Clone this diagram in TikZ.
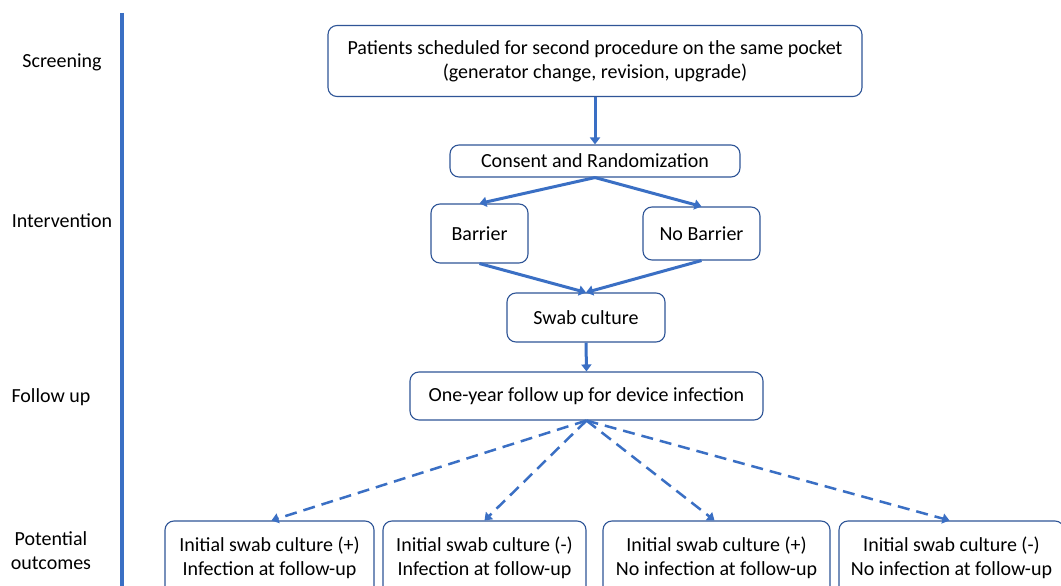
\documentclass[tikz,border=0pt]{standalone}
\usepackage{fontspec}
\setmainfont{Carlito}
\usetikzlibrary{arrows.meta}
\definecolor{lineblue}{HTML}{3A6FC4}
\definecolor{boxblue}{HTML}{2F5597}
\tikzset{
  box/.style={draw=boxblue, line width=1.1pt, rounded corners=9pt, align=center, font=\fontsize{20}{24}\selectfont, inner sep=0pt},
  lab/.style={font=\fontsize{20}{24}\selectfont, align=center},
  solidarrow/.style={draw=lineblue, line width=3pt, -{Triangle[width=10pt,length=7pt]}},
  dasharrow/.style={draw=lineblue, line width=2.5pt, dash pattern=on 12pt off 7pt, -{Triangle[width=10pt,length=7pt]}}
}
\begin{document}
\begin{tikzpicture}[x=1pt,y=-1pt]
\useasboundingbox (0,0) rectangle (1061,586);
\fill[white] (0,0) rectangle (1061,586);
% vertical bar
\draw[lineblue, line width=4.5pt] (122,13) -- (122,600);
% stage labels
\node[lab] (scr) at (62,62) {Screening};
\node[lab] (int) at (62,221) {Intervention};
\node[lab] (fol) at (51,397) {Follow up};
\node[lab] (pot) at (51,551) {Potential\\outcomes};
% boxes
\node[box, minimum width=534pt, minimum height=71pt] (top) at (595,61) {Patients scheduled for second procedure on the same pocket\\(generator change, revision, upgrade)};
\node[box, minimum width=290pt, minimum height=32pt] (cons) at (595,161) {Consent and Randomization};
\node[box, minimum width=97pt, minimum height=59pt] (bar) at (479.5,233.5) {Barrier};
\node[box, minimum width=117pt, minimum height=53pt] (nobar) at (701.5,233.5) {No Barrier};
\node[box, minimum width=158pt, minimum height=49pt] (swab) at (586,317.5) {Swab culture};
\node[box, minimum width=353pt, minimum height=48pt] (fu) at (586.5,396) {One-year follow up for device infection};
\node[box, minimum width=209pt, minimum height=74pt] (o1) at (269.5,558) {Initial swab culture (+)\\Infection at follow-up};
\node[box, minimum width=203pt, minimum height=74pt] (o2) at (484.5,558) {Initial swab culture (-)\\Infection at follow-up};
\node[box, minimum width=227pt, minimum height=74pt] (o3) at (716.5,558) {Initial swab culture (+)\\No infection at follow-up};
\node[box, minimum width=225pt, minimum height=74pt] (o4) at (951.5,558) {Initial swab culture (-)\\No infection at follow-up};
% solid arrows
\draw[solidarrow] (top.south) -- (cons.north);
\draw[solidarrow] (cons.south) -- (bar.north);
\draw[solidarrow] (cons.south) -- (nobar.north);
\draw[solidarrow] (bar.south) -- (swab.north);
\draw[solidarrow] (nobar.south) -- (swab.north);
\draw[solidarrow] (swab.south) -- (fu.north);
% dashed arrows
\draw[dasharrow] (fu.south) -- ([xshift=2pt]o1.north);
\draw[dasharrow] (fu.south) -- (o2.north);
\draw[dasharrow] (fu.south) -- ([xshift=-2pt]o3.north);
\draw[dasharrow] (fu.south) -- ([xshift=-2pt]o4.north);
\end{tikzpicture}
\end{document}
